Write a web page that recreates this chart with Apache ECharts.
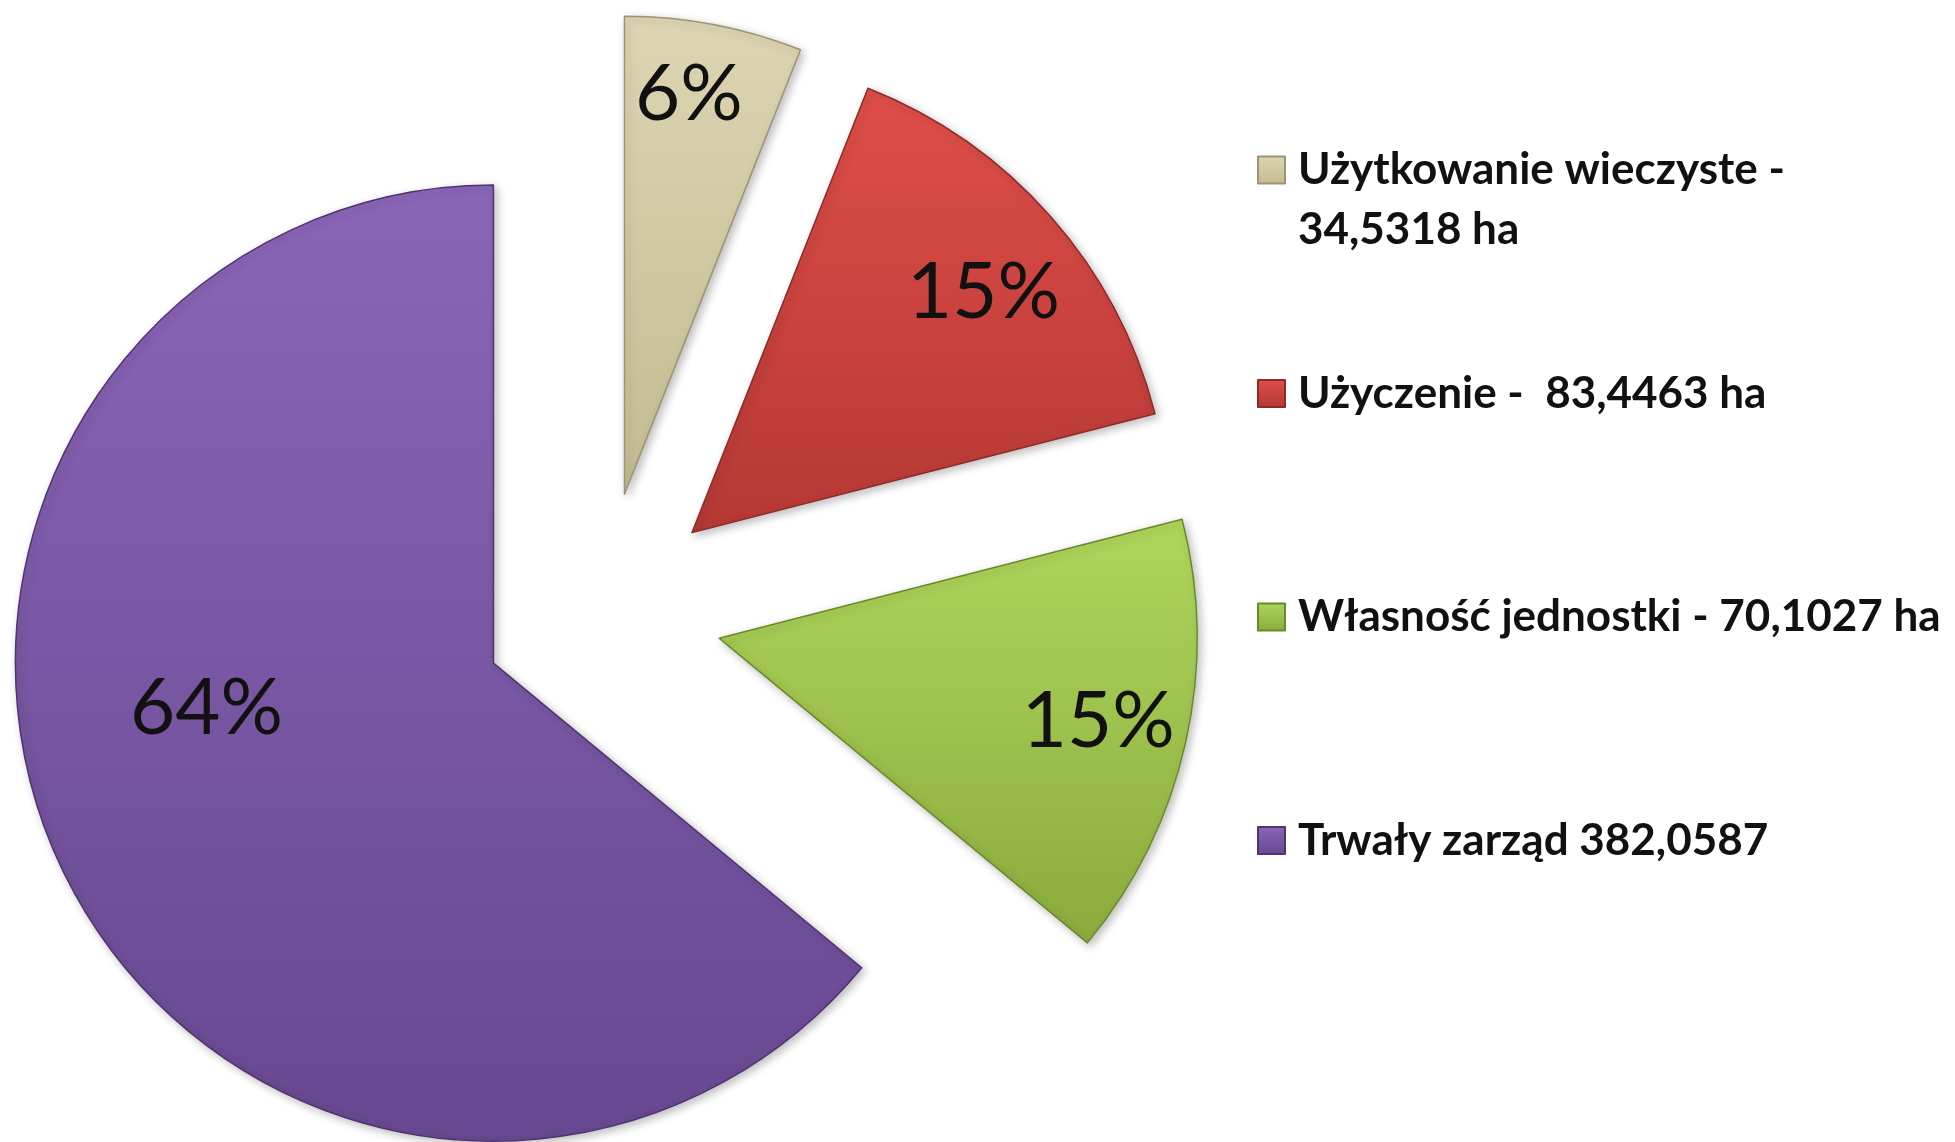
<!DOCTYPE html>
<html>
<head>
<meta charset="utf-8">
<title>Struktura władania gruntami</title>
<script src="https://cdn.jsdelivr.net/npm/echarts@6/dist/echarts.min.js"></script>
<style>
  html, body { margin: 0; padding: 0; background: #ffffff; }
  #main { width: 1955px; height: 1142px; }
</style>
</head>
<body>
<div id="main"></div>
<script>
// nazwy w legendzie (tak jak na obrazku)
const categories = [
  'Użytkowanie wieczyste -\n34,5318 ha',
  'Użyczenie -  83,4463 ha',
  'Własność jednostki - 70,1027 ha',
  'Trwały zarząd 382,0587'
];
const shares = [6, 15, 15, 64];

// kolory wycinków: [góra, dół, obramowanie]
const sliceColors = [
  ['#ddd5b3', '#c4bb93', '#9d9472'],
  ['#df4e49', '#b53834', '#8e2a27'],
  ['#afd65c', '#8aab3d', '#6a8a2a'],
  ['#8b66b8', '#674890', '#4e3470']
];

// przesunięcie etykiet procentowych względem domyślnego położenia
const labelNudge = [[19, -162], [110, -80], [143, 31], [-68, -57]];

const textColor = '#111111';

function gradient(top, bottom) {
  return new echarts.graphic.LinearGradient(0, 0, 0, 1, [
    { offset: 0, color: top },
    { offset: 1, color: bottom }
  ]);
}

let chart = echarts.init(document.getElementById('main'));

const pieData = shares.map((v, i) => {
  const c = sliceColors[i];
  return {
    name: categories[i],
    value: v,
    selected: true,
    itemStyle: {
      color: gradient(c[0], c[1]),
      borderColor: c[2],
      borderWidth: 1.5
    },
    select: {
      itemStyle: { color: gradient(c[0], c[1]), borderColor: c[2], borderWidth: 1.5 }
    }
  };
});

// legenda - pierwsza pozycja ma dwie linie, ikona przy pierwszej linii
const legendData = categories.map((name, i) => ({
  name: name,
  textStyle: { padding: i === 0 ? [60, 0, 0, 8] : [60, 0, 60, 8] }
}));

const option = {
  backgroundColor: '#ffffff',
  animation: false,
  legend: {
    orient: 'vertical',
    left: 1257,
    top: 80,
    padding: 0,
    itemGap: 43.5,
    itemWidth: 27,
    itemHeight: 27,
    icon: 'rect',
    selectedMode: false,
    data: legendData,
    formatter: function (name) {
      // rich text, żeby padding działał w pionie
      return name.split('\n').map(s => '{t|' + s + '}').join('\n');
    },
    textStyle: {
      // przezroczyste tło - wtedy wysokość pozycji liczy się z paddingiem
      backgroundColor: 'transparent',
      rich: {
        t: {
          color: textColor,
          fontFamily: 'Lato',
          fontWeight: 'bold',
          fontSize: 44,
          lineHeight: 60
        }
      }
    }
  },
  series: [{
    type: 'pie',
    center: [602, 612],
    radius: [0, 478],
    startAngle: 90,
    clockwise: true,
    selectedMode: 'multiple',
    selectedOffset: 120,
    avoidLabelOverlap: false,
    percentPrecision: 0,
    emphasis: { disabled: true },
    itemStyle: {
      shadowBlur: 8,
      shadowOffsetX: 3,
      shadowOffsetY: 3,
      shadowColor: 'rgba(0,0,0,0.25)'
    },
    label: {
      show: true,
      position: 'inside',
      formatter: '{d}%',
      color: textColor,
      fontFamily: 'Lato',
      fontSize: 78
    },
    labelLine: { show: false },
    labelLayout: function (params) {
      const n = labelNudge[params.dataIndex];
      return { dx: n[0], dy: n[1] };
    },
    data: pieData
  }]
};

chart.setOption(option);
</script>
</body>
</html>
